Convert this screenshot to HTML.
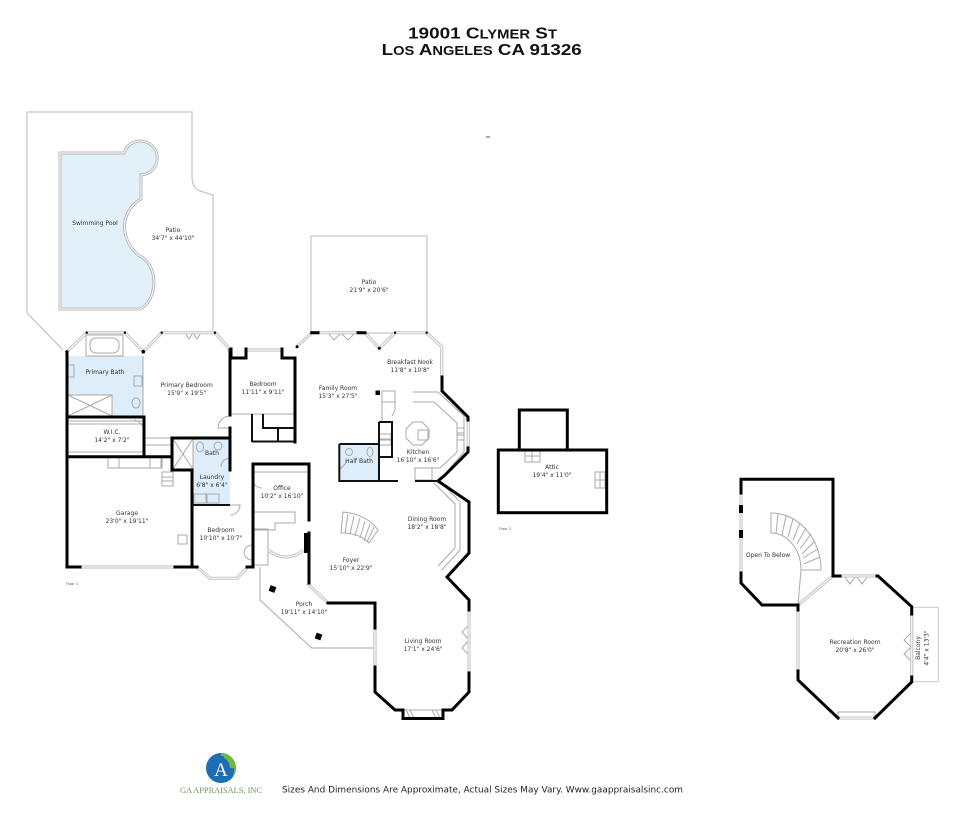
<!DOCTYPE html>
<html><head><meta charset="utf-8"><style>
html,body{margin:0;padding:0;background:#fff;}
svg{display:block;}
.lb{font-family:"DejaVu Sans","Liberation Sans",sans-serif;font-size:6px;fill:#333;text-anchor:middle;}
</style></head><body>
<svg width="965" height="814" viewBox="0 0 965 814" xmlns="http://www.w3.org/2000/svg">
<rect width="965" height="814" fill="#fff"/>

<!-- Title -->
<text x="408" y="38.3" textLength="149" lengthAdjust="spacingAndGlyphs" style="font-family:'Liberation Sans',sans-serif;font-weight:bold;font-size:16px;fill:#111">19001 C<tspan style="font-size:12.5px">LYMER</tspan> S<tspan style="font-size:12.5px">T</tspan></text>
<text x="381.7" y="55" textLength="200" lengthAdjust="spacingAndGlyphs" style="font-family:'Liberation Sans',sans-serif;font-weight:bold;font-size:16px;fill:#111">L<tspan style="font-size:12.5px">OS</tspan> A<tspan style="font-size:12.5px">NGELES</tspan> CA 91326</text>
<line x1="486" y1="137" x2="490" y2="137" stroke="#555" stroke-width="1"/>

<!-- Patio outlines -->
<path d="M63,350 L27,313 L27,112 L192,112 L192,178 Q193,189 200,191 L213,195 L213,333" fill="none" stroke="#c8c8c8" stroke-width="1.3"/>
<rect x="311" y="236" width="116" height="97" fill="none" stroke="#c8c8c8" stroke-width="1.3"/>

<!-- Pool -->
<path d="M60,153 L124,153 A17,17 0 1 1 141,175 L141,199 C127,207 123,222 125,232 C127,244 133,252 143,258 C158,268 158,300 140,309 L60,309 Z" fill="#e2f0fa" stroke="#b8b8b8" stroke-width="3"/>
<path d="M60,153 L124,153 A17,17 0 1 1 141,175 L141,199 C127,207 123,222 125,232 C127,244 133,252 143,258 C158,268 158,300 140,309 L60,309 Z" fill="none" stroke="#fff" stroke-width="1"/>

<!-- Light blue wet rooms -->
<g fill="#ddedf9">
<rect x="68" y="356" width="75" height="39"/>
<rect x="112" y="395" width="31" height="21"/>
<rect x="193" y="439" width="37" height="31"/>
<rect x="193" y="470" width="37" height="34"/>
<rect x="339.3" y="444" width="39.7" height="36.7"/>
</g>

<!-- Fixtures / thin interior lines -->
<g fill="none" stroke="#aaa" stroke-width="1">
<rect x="86" y="335" width="37" height="21"/>
<rect x="90" y="338" width="29" height="15" rx="6"/>
<rect x="68" y="395" width="44" height="21"/>
<path d="M68,395 L112,416 M112,395 L68,416"/>
<rect x="68" y="365" width="6" height="12"/>
<rect x="134" y="376" width="8" height="10"/>
<ellipse cx="136" cy="403" rx="4" ry="5"/>
<path d="M143,356 L143,416"/>
<path d="M67,421 L144,421 M67,452 L144,452 M67,424 L144,424"/>
<path d="M144,417 L144,430 A12,12 0 0 0 134,420"/>
<rect x="108" y="457" width="54" height="11"/>
<rect x="108" y="457" width="11" height="11"/>
<rect x="150" y="457" width="11" height="11"/>
<rect x="162" y="472" width="11" height="14"/>
<path d="M162,477 L173,477 M162,481 L173,481"/>
<rect x="178" y="535" width="9" height="9"/>
<rect x="173" y="439" width="20" height="30"/>
<path d="M173,439 L193,469 M193,439 L173,469"/>
<ellipse cx="200" cy="447" rx="3.5" ry="5"/>
<circle cx="218" cy="446" r="4"/>
<path d="M230,458 A9,9 0 0 0 221,467"/>
<rect x="194" y="494" width="12" height="9"/>
<rect x="207" y="494" width="12" height="9"/>
<path d="M231,414 L295,414"/>
<path d="M144,438 L172,438 M144,445 L172,445"/>
<path d="M230,416 A12,12 0 0 0 218,428 L230,428"/>
<path d="M230,505 L240,505 A10,10 0 0 1 230,515"/>
<path d="M252,545 A8,8 0 0 0 244,553 M252,560 A8,8 0 0 1 244,552"/>
<rect x="253" y="529" width="15" height="36"/>
<path d="M253,512 L295,512 L295,523 L275,523 L275,530 L253,530"/>
<path d="M253,472 L309,472"/>
<path d="M262,488 A10,10 0 0 1 252,478"/>
<rect x="382" y="391" width="13" height="11"/>
<path d="M382,402 L382,422 M395,402 L395,410 L392,416"/>
<path d="M413,392 L438,392 L464,416 L464,452 M413,402 L434,402 L457,423 L457,452"/>
<rect x="457" y="428" width="7" height="5"/>
<rect x="457" y="435" width="7" height="5"/>
<path d="M457,452 L440,468 L432,468 L432,481 M464,452 L444,475"/>
<rect x="415" y="468" width="17" height="12"/>
<path d="M413,422 L422,422 L429,429 L429,438 L422,445 L413,445 L406,438 L406,429 Z"/>
<rect x="418" y="430" width="10" height="10"/>
<rect x="379" y="434" width="12" height="5"/>
<rect x="379" y="440" width="12" height="5"/>
<circle cx="349" cy="452" r="3.5"/>
<ellipse cx="370" cy="452" rx="3" ry="4.5"/>
<path d="M339,470 L347,462"/>
<path d="M438.3,480 L460,501.7 L460,550 L441.7,570 M434,483 L455,504 L455,548 L438,566"/>
<path d="M343,512 Q366,514 378,530 L369,543 Q360,533 341,533 Z"/>
<path d="M348,514 L345,533 M354,516 L350,534 M360,518 L355,536 M365,521 L360,538 M370,524 L364,541 M374,527 L367,542"/>
<path d="M260,567 L260,600 L311.7,648 L375,648"/>
<path d="M771,513 A50,57 0 0 1 821,570 L801,570 A30,37 0 0 0 771,533 Z"/>
<path d="M778,514 L776,534 M786,516 L782,535 M793,519 L788,537 M800,523 L793,540 M806,528 L797,544 M811,534 L800,549 M815,541 L802,554 M818,549 L803,558 M820,557 L804,564"/>
<path d="M821,570 L801,570 L798,605"/>
<rect x="912.7" y="607.3" width="25.6" height="74.4" stroke="#c8c8c8"/>
<rect x="525" y="450" width="15" height="12"/>
<path d="M532,450 L532,462 M525,456 L540,456"/>
<rect x="595" y="472" width="10" height="16"/>
<path d="M595,480 L605,480 M600,472 L600,488"/>
<rect x="403" y="710" width="40" height="8"/>
<path d="M406,710 L410,718 M410,710 L414,718 M432,710 L436,718 M436,710 L440,718"/>
<rect x="838" y="712" width="37" height="6"/>
<path d="M341,333 L334,340 L328,333 M341,333 L348,340 L355,333"/>
<path d="M856,576 L850,584 L844,576 M856,576 L862,584 L868,576"/>
<path d="M469,625 L462,632 L469,640 L462,648 L469,655"/>
<path d="M911,633 L904,640 L911,647 L904,654 L911,661"/>
<path d="M193,333 L189,339 L185,333 M193,333 L197,339 L201,333"/>
</g>

<!-- Windows (double gray lines) -->
<g fill="none" stroke-linejoin="miter">
<path d="M66.7,351.7 L86.7,332.7 L125,332.7 L143.3,351.7 M143.3,351.7 L161.7,332.7 L215,332.7 L230,349.3 M246,350 L282,350 M297,346.7 L311.7,332.7 L365,332.7 L379.3,348.3 L395,332.7 L426.7,332.7 L441.7,346.7 L441.7,377 M468.3,420 L468.3,448 M80,567 L175,567 M197,567 L210,578.3 L237,578.3 L247,568 M307,583 L328,603 M375,628 L375,667 M469,610 L469,673 M268,550 Q286,564 304,550 M741,493 L741,573 M840,576 L877,576 M911.7,614 L911.7,677 M838,718 L875,718 M798,610 L798,671 M798,605 L833,576" stroke="#c6c6c6" stroke-width="3.2"/>
<path d="M66.7,351.7 L86.7,332.7 L125,332.7 L143.3,351.7 M143.3,351.7 L161.7,332.7 L215,332.7 L230,349.3 M246,350 L282,350 M297,346.7 L311.7,332.7 L365,332.7 L379.3,348.3 L395,332.7 L426.7,332.7 L441.7,346.7 L441.7,377 M468.3,420 L468.3,448 M80,567 L175,567 M197,567 L210,578.3 L237,578.3 L247,568 M307,583 L328,603 M375,628 L375,667 M469,610 L469,673 M268,550 Q286,564 304,550 M741,493 L741,573 M840,576 L877,576 M911.7,614 L911.7,677 M838,718 L875,718 M798,610 L798,671 M798,605 L833,576" stroke="#fff" stroke-width="1"/>
</g>
<g fill="#000">
<rect x="739" y="505" width="4" height="8"/><rect x="739" y="530" width="4" height="8"/>
</g>

<!-- Black walls -->
<g fill="none" stroke="#000" stroke-width="3" stroke-linejoin="miter" stroke-linecap="square">
<path d="M67,352 L67,567 L80,567 M175,567 L197,567 M247,567 L253,567 L253,464 L309,464 L309,520"/>
<path d="M67,417 L144,417 L144,456 M67,456.7 L172,456.7"/>
<path d="M172,438 L172,470 L192,470 L192,567 M172,438 L230,438 L230,470"/>
<path d="M230,350 L230,415 M230,428 L230,438"/>
<path d="M231,349 L231,358 L246,358 L246,349 M282,349 L282,358 L295,358 L295,442"/>
<path d="M309,533 L309,583"/>
<path d="M328,603 L375,603 L375,628 M375,667 L375,692 L395,710 L403,710 L403,718.5 L443,718.5 L443,710 L452,710 L469,692 L469,673 M469,610 L469,600 L447,577 L469,553 L469,502 L438,481 L445,475 L468,452 L468,448 M468,420 L468,417 L442,391 L442,377"/>
<path d="M311.7,332.7 L318,332.7 M358,332.7 L365,332.7"/>
<path d="M798,605 L762,605 L741,583 L741,573 M741,493 L741,479.3 L833,479.3 L833,576 L840,576 M877,576 L878,576 L911.7,606.7 L911.7,614 M911.7,677 L911.7,682 L875,718 M838,718 L798,680 L798,671 M798,610 L798,605"/>
<rect x="498.3" y="450" width="108.4" height="62.7"/>
<path d="M519.3,450 L519.3,410 L567.3,410 L567.3,450"/>
</g>
<g fill="none" stroke="#111" stroke-width="2">
<path d="M339.3,444 L379,444 M339.3,444 L339.3,481 L398,481 M415,481 L438,481 M379,422 L379,481 M379,422 L392,422 L392,457 L379,457"/>
<path d="M192,505 L230,505"/>
<path d="M252,414 L252,442 M263,414 L263,428 L295,428 M252,441.5 L295,441.5 M278,428 L278,442"/>
</g>
<g fill="#000">
<rect x="304" y="533" width="5" height="20"/>
<rect x="375.5" y="390.5" width="4.5" height="4.5"/>
<rect x="269.5" y="586" width="6" height="6" transform="rotate(20 272.5 589)"/>
<rect x="315.5" y="633.5" width="6" height="6" transform="rotate(20 318.5 636.5)"/>
<circle cx="66.7" cy="351.7" r="1.5"/><circle cx="143.3" cy="351.7" r="1.8"/><circle cx="86.7" cy="332.7" r="1.2"/><circle cx="125" cy="332.7" r="1.2"/>
<circle cx="161.7" cy="332.7" r="1.2"/><circle cx="215" cy="332.7" r="1.2"/><circle cx="379.3" cy="348.3" r="1.5"/><circle cx="395" cy="332.7" r="1.2"/><circle cx="426.7" cy="332.7" r="1.2"/><circle cx="297" cy="346.7" r="1.5"/>
</g>

<!-- Labels -->
<text class="lb" x="95" y="225">Swimming Pool</text>
<text class="lb" x="173" y="232">Patio</text><text class="lb" x="173" y="240">34'7" x 44'10"</text>
<text class="lb" x="369" y="284">Patio</text><text class="lb" x="369" y="292">21'9" x 20'6"</text>
<text class="lb" x="105" y="374">Primary Bath</text>
<text class="lb" x="186.7" y="387">Primary Bedroom</text><text class="lb" x="186.7" y="395">15'9" x 19'5"</text>
<text class="lb" x="263" y="386">Bedroom</text><text class="lb" x="263" y="394">11'11" x 9'11"</text>
<text class="lb" x="338" y="390">Family Room</text><text class="lb" x="338" y="398">15'3" x 27'5"</text>
<text class="lb" x="410" y="364">Breakfast Nook</text><text class="lb" x="410" y="372">11'8" x 10'8"</text>
<text class="lb" x="112" y="434">W.I.C.</text><text class="lb" x="112" y="442">14'2" x 7'2"</text>
<text class="lb" x="212" y="455">Bath</text>
<text class="lb" x="359" y="463">Half Bath</text>
<text class="lb" x="418" y="454">Kitchen</text><text class="lb" x="418" y="462">16'10" x 16'6"</text>
<text class="lb" x="212" y="479">Laundry</text><text class="lb" x="212" y="487">6'8" x 6'4"</text>
<text class="lb" x="282" y="490">Office</text><text class="lb" x="282" y="498">10'2" x 16'10"</text>
<text class="lb" x="127" y="515">Garage</text><text class="lb" x="127" y="523">23'0" x 19'11"</text>
<text class="lb" x="427" y="521">Dining Room</text><text class="lb" x="427" y="529">18'2" x 18'8"</text>
<text class="lb" x="221" y="532">Bedroom</text><text class="lb" x="221" y="540">10'10" x 10'7"</text>
<text class="lb" x="351" y="562">Foyer</text><text class="lb" x="351" y="570">15'10" x 22'9"</text>
<text class="lb" x="304" y="606">Porch</text><text class="lb" x="304" y="614">19'11" x 14'10"</text>
<text class="lb" x="423" y="643">Living Room</text><text class="lb" x="423" y="651">17'1" x 24'6"</text>
<text class="lb" x="552" y="469">Attic</text><text class="lb" x="552" y="477">19'4" x 11'0"</text>
<text class="lb" x="768" y="557">Open To Below</text>
<text class="lb" x="855" y="644">Recreation Room</text><text class="lb" x="855" y="652">20'8" x 26'0"</text>
<text class="lb" transform="translate(920 648) rotate(-90)">Balcony</text>
<text class="lb" transform="translate(928.5 648) rotate(-90)">4'4" x 13'3"</text>
<text x="66" y="585" style="font-family:'DejaVu Sans',sans-serif;font-size:3.5px;fill:#555">Floor 1</text>
<text x="499" y="530" style="font-family:'DejaVu Sans',sans-serif;font-size:3.5px;fill:#555">Floor 2</text>

<!-- Logo -->
<circle cx="221" cy="768" r="15" fill="#1f6db5"/>
<path d="M221,753 A15,15 0 0 1 231,779 A13,14 0 0 0 221,756 Z" fill="#72b843"/>
<path d="M224,754 A15,15 0 0 1 236,768 L230,768 A9,11 0 0 0 224,758 Z" fill="#72b843"/>
<text x="221" y="776" text-anchor="middle" style="font-family:'Liberation Serif',serif;font-size:19px;fill:#fff">A</text>
<text x="180" y="793" textLength="82" lengthAdjust="spacingAndGlyphs" style="font-family:'Liberation Serif',serif;font-size:8px;fill:#6f9360">GA APPRAISALS, INC</text>
<text x="282" y="792.5" textLength="401" lengthAdjust="spacingAndGlyphs" style="font-family:'DejaVu Sans',sans-serif;font-size:9px;fill:#222">Sizes And Dimensions Are Approximate, Actual Sizes May Vary. Www.gaappraisalsinc.com</text>
</svg>
</body></html>
